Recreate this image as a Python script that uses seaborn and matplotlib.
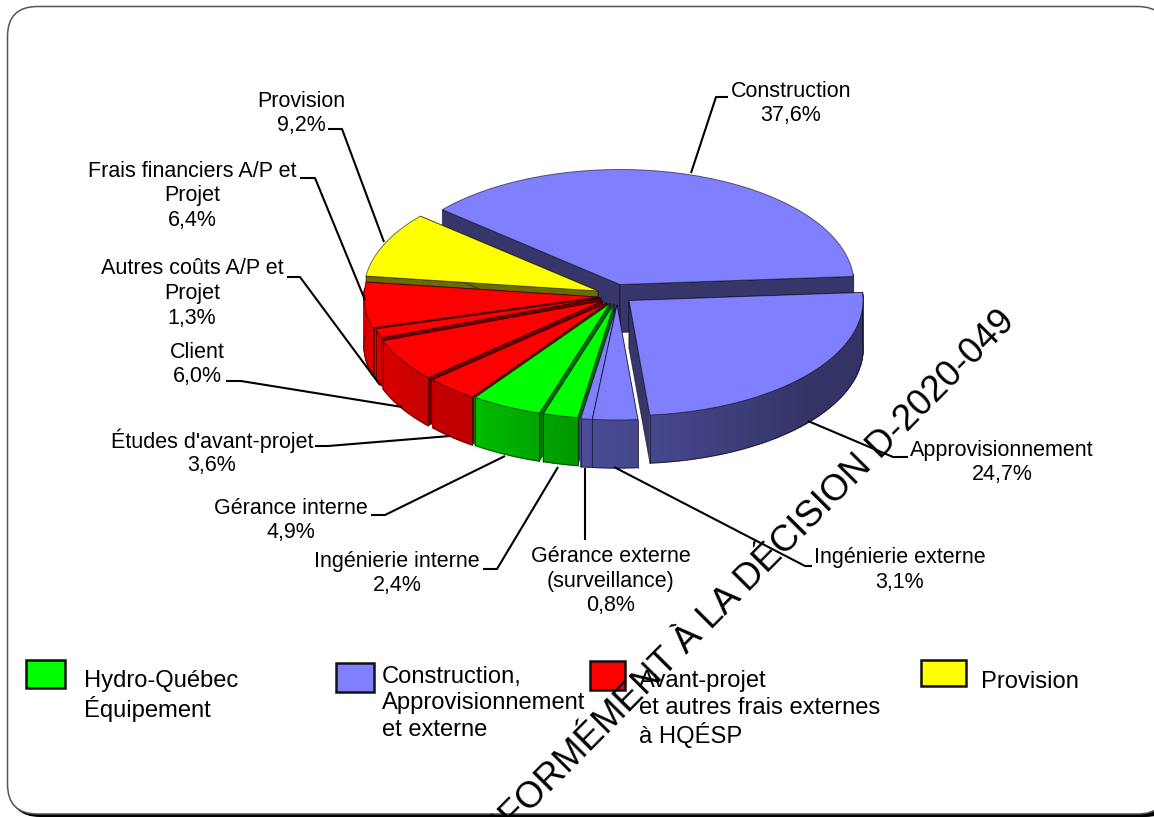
import numpy as np
import matplotlib
matplotlib.use("Agg")
import matplotlib.pyplot as plt
from matplotlib.patches import FancyBboxPatch, Polygon, Rectangle
import seaborn as sns

# ---------- data ----------
slice_names = ["Construction", "Approvisionnement", "Ingénierie externe",
               "Gérance externe\n(surveillance)", "Ingénierie interne", "Gérance interne",
               "Études d'avant-projet", "Client", "Autres coûts A/P et\nProjet",
               "Frais financiers A/P et\nProjet", "Provision"]
slice_values = [37.6, 24.7, 3.1, 0.8, 2.4, 4.9, 3.6, 6.0, 1.3, 6.4, 9.2]
slice_groups = ["blue", "blue", "blue", "blue", "green", "green", "red", "red", "red", "red", "yellow"]
legend_labels = [["Hydro-Québec", "Équipement"],
                 ["Construction,", "Approvisionnement", "et externe"],
                 ["Avant-projet", "et autres frais externes", "à HQÉSP"],
                 ["Provision"]]
legend_groups = ["green", "blue", "red", "yellow"]
watermark = "CONFORMÉMENT À LA DÉCISION D-2020-049"

# ---------- styles / layout ----------
W, H = 1154, 817
sns.set_theme(style="white")
plt.rcParams["font.family"] = ["Liberation Sans", "DejaVu Sans"]
pal = sns.color_palette(["#8080ff", "#00ff00", "#ff0000", "#ffff00"])
group_color = dict(zip(["blue", "green", "red", "yellow"], pal))

CX, CY, RX, RY, DEPTH = 612, 297, 234, 115, 48
START_ANGLE = 139.4
# how far each slice is pulled out of the pie, in pixels
explode_dx = [8, 17, 5, 5, 2, -2, -5, -9.5, -11, -14, -14]
explode_dy = [-12.5, 3.5, 8, 8, 7, 6.5, 6, 4, 1, 0, -6]
# order in which slices are painted, back to front
paint_order = [0, 10, 9, 8, 7, 6, 5, 4, 1, 3, 2]
shade_angle = [-200, -160, -125, -100, -85, -40, 10]
shade_level = [0.92, 0.85, 0.74, 0.60, 0.55, 0.40, 0.40]
RADIAL_SHADE = 0.42

# leader lines (pixel layout): anchor, elbow, end
leaders = [[(691, 173), (716, 97), (728, 97)],
           [(808, 421), (893, 457), (908, 457)],
           [(614, 467), (805, 566), (812, 566)],
           [(585, 468), (585, 540)],
           [(558, 467), (497, 569), (483, 569)],
           [(505, 456), (385, 515), (371, 515)],
           [(450, 436), (328, 446), (315, 446)],
           [(402, 407), (241, 381), (226, 381)],
           [(380, 385), (300, 277), (287, 277)],
           [(365, 300), (315, 178), (300, 178)],
           [(384, 242), (342, 129), (328, 129)]]
label_pos = [(791, 91), (1002, 450), (900, 558), (611, 557), (397, 561), (291, 508),
             (212, 441), (197, 352), (192, 269), (192, 171), (301, 101)]
LABEL_FS, LABEL_STEP = 15.5, 24.5
legend_boxes = [(26, 660, 39, 28), (336, 663, 38, 29), (590, 661, 35, 29), (921, 660, 45, 26)]
legend_text_pos = [(84, 681.5), (382, 676.5), (639, 681.5), (981, 682.5)]
LEGEND_FS, LEGEND_STEP = 17.1, 27

fig = plt.figure(figsize=(W / 100, H / 100), dpi=100, facecolor="white")
ax = fig.add_axes([0, 0, 1, 1])
ax.set_xlim(0, W)
ax.set_ylim(H, 0)
ax.axis("off")

# frame with shadow
ax.add_patch(FancyBboxPatch((10, 10), 1165, 807, boxstyle="round,pad=0,rounding_size=30",
                            fc="black", ec="black", lw=0, zorder=1))
ax.add_patch(FancyBboxPatch((7.5, 6.5), 1160, 807.5, boxstyle="round,pad=0,rounding_size=30",
                            fc="white", ec="#555555", lw=1.1, zorder=2))


def shade(color, level):
    return tuple(c * level for c in color)


# pie
angles = START_ANGLE - np.concatenate([[0], np.cumsum(slice_values)]) * 360 / sum(slice_values)
edge = (0, 0, 0, 0.55)
z = 3
for i in paint_order:
    a0, a1 = angles[i], angles[i + 1]
    ox = CX + explode_dx[i]
    oy = CY + explode_dy[i]
    th = np.linspace(a0, a1, max(int(a0 - a1), 6))
    px = ox + RX * np.cos(np.radians(th))
    py = oy - RY * np.sin(np.radians(th))
    col = group_color[slice_groups[i]]
    dark = shade(col, RADIAL_SHADE)
    for (ex, ey) in [(px[0], py[0]), (px[-1], py[-1])]:
        ax.add_patch(Polygon([(ox, oy), (ex, ey), (ex, ey + DEPTH), (ox, oy + DEPTH)],
                             fc=dark, ec=edge, lw=0.6, zorder=z))
    for k in range(len(th) - 1):
        mid_th = (th[k] + th[k + 1]) / 2
        if np.sin(np.radians(mid_th)) <= 0.08:
            lev = np.interp(mid_th, shade_angle, shade_level)
            fc = shade(col, lev)
            ax.add_patch(Polygon([(px[k], py[k]), (px[k + 1], py[k + 1]),
                                  (px[k + 1], py[k + 1] + DEPTH), (px[k], py[k] + DEPTH)],
                                 fc=fc, ec=fc, lw=1.0, zorder=z))
    front = np.sin(np.radians(th)) <= 0.08
    ax.plot(px[front], py[front] + DEPTH, color=edge, lw=0.6, zorder=z)
    if front.sum() > 1:
        for j in (np.flatnonzero(front)[0], np.flatnonzero(front)[-1]):
            ax.plot([px[j], px[j]], [py[j], py[j] + DEPTH], color=edge, lw=0.7, zorder=z)
    ax.add_patch(Polygon(list(zip(np.r_[ox, px], np.r_[oy, py])), fc=col, ec=edge, lw=0.7, zorder=z))
    z += 1


# helper for stacked text lines
def stacked(x, y, lines, fs, step, ha):
    for n, line in enumerate(lines):
        ax.text(x, y + n * step, line, fontsize=fs, ha=ha, va="center", color="black", zorder=30)


# leaders + labels
for i, name in enumerate(slice_names):
    xs, ys = zip(*leaders[i])
    ax.plot(xs, ys, color="black", lw=1.5, zorder=25, solid_capstyle="butt")
    pct = f"{slice_values[i]:.1f}".replace(".", ",") + "%"
    stacked(label_pos[i][0], label_pos[i][1], name.split("\n") + [pct], LABEL_FS, LABEL_STEP, "center")

# legend
for box, grp, lines, pos in zip(legend_boxes, legend_groups, legend_labels, legend_text_pos):
    ax.add_patch(Rectangle(box[:2], box[2], box[3], fc=group_color[grp], ec="#111111", lw=1.8, zorder=20))
    stacked(pos[0], pos[1], lines, LEGEND_FS, LEGEND_STEP, "left")

# watermark
ax.text(1016, 323, watermark, fontsize=26.4, rotation=45.2, rotation_mode="anchor",
        ha="right", va="baseline", color="black", zorder=35, clip_on=True)

fig.savefig("out.png", dpi=100, facecolor="white")
